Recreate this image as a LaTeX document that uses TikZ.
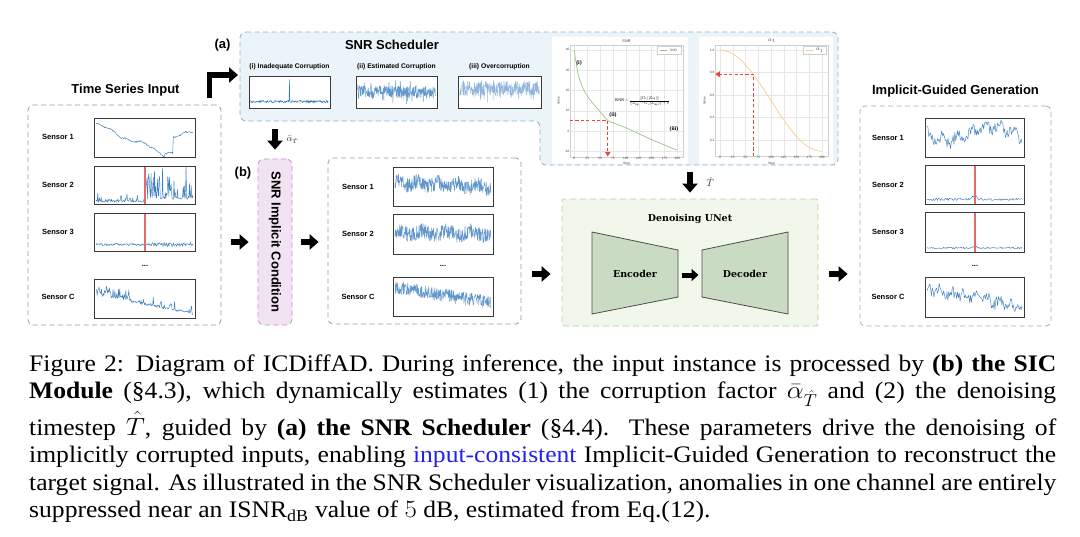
\documentclass[tikz,border=0pt]{standalone}
\usepackage{fontspec}
\setmainfont{Liberation Serif}
\newfontfamily\sansf{Liberation Sans}
\newfontfamily\slabf{DejaVu Serif}
\usepackage{graphicx}
\usetikzlibrary{arrows.meta}

\definecolor{sigblue}{HTML}{3B7DC0}
\definecolor{anomred}{HTML}{E36B6B}
\definecolor{schedfill}{HTML}{EAF4F9}
\definecolor{scheddraw}{HTML}{8DADCB}
\definecolor{panelc}{HTML}{9499B2}
\definecolor{sicfill}{HTML}{F1E3F2}
\definecolor{sicdraw}{HTML}{C48ED3}
\definecolor{unetfill}{HTML}{F1F7EB}
\definecolor{unetdraw}{HTML}{BDCFA2}
\definecolor{trapfill}{HTML}{C9DBC3}
\definecolor{trapdraw}{HTML}{4D4D4D}
\definecolor{gridc}{HTML}{E7E7E7}
\definecolor{axisc}{HTML}{CFCFCF}
\definecolor{snrgreen}{HTML}{96C985}
\definecolor{alphaorange}{HTML}{F6CF8C}
\definecolor{redd}{HTML}{E8453C}
\definecolor{boxc}{HTML}{3A3A3A}
\definecolor{capblue}{HTML}{2222EE}

\tikzset{
  panel/.style={draw=panelc, dash pattern=on 5pt off 3.5pt, line width=0.8pt, rounded corners=5pt, inner sep=0pt},
  plotbox/.style={draw=boxc, line width=0.9pt},
  sig/.style={draw=sigblue, line width=0.45pt, line join=round},
  signoise/.style={draw=sigblue, line width=0.45pt, line join=round, draw opacity=0.8},
  signoiselt/.style={draw=sigblue, line width=0.45pt, line join=round, draw opacity=0.55},
  anom/.style={draw=anomred, line width=1.3pt},
  fatarrow/.style={line width=6.5pt, -{Triangle[length=9pt,width=15pt]}, line join=miter},
  smallarrow/.style={line width=5pt, -{Triangle[length=7pt,width=12pt]}},
  senslab/.style={font=\sansf\bfseries\fontsize{7.5}{8}\selectfont, inner sep=0pt},
  ttl/.style={font=\sansf\bfseries\fontsize{13}{14}\selectfont, inner sep=0pt},
  sublab/.style={font=\sansf\bfseries\fontsize{6.7}{7}\selectfont, inner sep=0pt},
  ticklab/.style={font=\sansf\fontsize{3.2}{3.5}\selectfont, inner sep=0.4pt, text=black!75},
  reddash/.style={draw=redd, line width=1.1pt, dash pattern=on 3.2pt off 2.2pt, -{Triangle[length=4.5pt,width=5.5pt]}},
  annot/.style={font=\bfseries\fontsize{5.8}{6}\selectfont, inner sep=0pt},
  unettext/.style={font=\slabf\bfseries\fontsize{9.5}{10}\selectfont, inner sep=0pt},
}

\newcommand{\tsplot}[7][sig]{%
  \fill[white] (#2,#3) rectangle (#4,#5);
  \begin{scope}
    \clip (#2,#3) rectangle (#4,#5);
    \draw[#1] plot[domain=0.02:0.98, samples=#6] ({#2+(#4-#2)*\x},{#5-(#5-#3)*(#7)});
  \end{scope}
  \draw[plotbox] (#2,#3) rectangle (#4,#5);
}

\begin{document}
\begin{tikzpicture}[x=1pt,y=-1pt]
\useasboundingbox (0,0) rectangle (1080,536);
\fill[white] (0,0) rectangle (1080,536);
\pgfmathsetseed{2024}

% ---------- SNR scheduler panel ----------
\draw[draw=scheddraw, fill=schedfill, dash pattern=on 5pt off 3.5pt, line width=0.8pt, rounded corners=6pt]
  (240,32) -- (838,32) -- (838,165) -- (540,165) -- (540,121) -- (240,121) -- cycle;
\coordinate (schedA) at (275,121);
\coordinate (schedB) at (690,165);
\coordinate (schedL) at (238,75);
\node[ttl] (alab) at (222.5,45) {(a)};
\node[ttl] (schedT) at (392,45) {SNR Scheduler};
\node[sublab] (s1lab) at (289.5,66.5) {(i) Inadequate Corruption};
\node[sublab] (s2lab) at (396.5,66.5) {(ii) Estimated Corruption};
\node[sublab] (s3lab) at (499.5,66.5) {(iii) Overcorruption};
\tsplot{249}{76}{330}{108}{201}{0.2+0.04*rand+(abs(\x-0.5)<0.003)*0.72}
\tsplot[signoise]{356}{76}{437}{108}{320}{0.5+0.2*rand+0.25*pow(rnd,12)-0.25*pow(rnd,12)}
\tsplot[signoiselt]{458}{76}{541}{108}{300}{0.62+0.24*rand-0.3*pow(rnd,14)}

% chart 1 : SNR
\fill[white] (552,37) rectangle (688,164);
\node[ticklab, font=\sansf\fontsize{3.8}{4}\selectfont] (c1t) at (626.5,41) {SNR};
\node[ticklab, rotate=90] (c1v) at (558.5,101) {Value};
\node[ticklab] (c1s) at (626.5,163.3) {Step};
\begin{scope}[shift={(574.3,131)}, x=0.515pt, y=2.03pt]
  \draw[gridc, line width=0.35pt] foreach \s in {0,25,...,200} {(\s,-12.8) -- (\s,42.4)};
  \draw[gridc, line width=0.35pt] foreach \v in {-10,0,...,40} {(-8.3,\v) -- (211,\v)};
  \draw[axisc, line width=0.5pt] (-8.3,-12.8) rectangle (211,42.4);
  \draw[snrgreen, line width=0.7pt] plot[smooth, tension=0.5] coordinates {(0,40) (2,36) (4,33) (7,28.5) (11,25) (16,21.5) (22,18.5) (30,15.5) (40,12.5) (52,9) (65,5.2) (80,3.6) (100,1.6) (125,-1.3) (150,-4.2) (175,-6.9) (200,-9.5)};
  \draw[reddash] (-8.3,5) -- (65,5) -- (65,-12.5);
  \foreach \s in {0,25,...,200} \node[ticklab, anchor=north] at (\s,-12.8) {\s};
  \foreach \v in {-10,0,...,40} \node[ticklab, anchor=east] at (-8.3,\v) {\v};
\end{scope}
\draw[axisc, fill=white, line width=0.3pt] (657,46.5) rectangle (681,54);
\draw[snrgreen, line width=0.7pt] (659.5,50.2) -- (666.5,50.2);
\node[ticklab] (c1l) at (673.5,50.2) {SNR};
\node[annot] (ai) at (579,63) {(i)};
\node[annot] (aii) at (613,115) {(ii)};
\node[annot] (aiii) at (674,129) {(iii)};
\node[scale=0.42, inner sep=0pt] (isnr) at (642,101) {$\mathrm{ISNR}=\displaystyle\frac{\|G_v(Z_{\mathrm{inp}})\|}{\|Z_{\mathrm{inp}}-G_v(Z_{\mathrm{inp}})\|+\delta}$};

% chart 2 : alpha bar
\fill[white] (699,37) rectangle (833,164);
\node[ticklab, font=\fontsize{4}{4.2}\selectfont] (c2t) at (771.5,40.5) {$\bar{\alpha}_t$};
\node[ticklab, rotate=90] (c2v) at (704.5,101) {Value};
\node[ticklab] (c2s) at (771.5,163.3) {Step};
\begin{scope}[shift={(720,162.5)}, x=0.51pt, y=112.5pt]
  \draw[gridc, line width=0.35pt] foreach \s in {0,25,...,200} {(\s,0.058) -- (\s,1.044)};
  \draw[gridc, line width=0.35pt] foreach \v in {0.2,0.4,0.6,0.8,1.0} {(-9.8,\v) -- (211.8,\v)};
  \draw[axisc, line width=0.5pt] (-9.8,0.058) rectangle (211.8,1.044);
  \draw[alphaorange, line width=0.7pt] plot[domain=0:200, samples=60] (\x, {0.1+0.9*cos(0.45*\x)^2});
  \draw[reddash] (65,0.058) -- (65,0.785) -- (-9.3,0.785);
  \foreach \s in {0,25,...,200} \node[ticklab, anchor=north] at (\s,0.058) {\s};
  \foreach \v in {0.2,0.4,0.6,0.8,1.0} \node[ticklab, anchor=east] at (-9.8,\v) {\v};
\end{scope}
\draw[axisc, fill=white, line width=0.3pt] (803,46.5) rectangle (826,54);
\draw[alphaorange, line width=0.7pt] (805.5,50.2) -- (812.5,50.2);
\node[ticklab, font=\fontsize{3.2}{3.4}\selectfont] (c2l) at (819.5,50.2) {$\bar{\alpha}_t$};

% ---------- Time series input ----------
\node[panel, minimum width=193pt, minimum height=220pt] (inp) at (124.5,215) {};
\node[ttl] (inpT) at (125.5,90) {Time Series Input};
\node[senslab] (i1) at (58,137) {Sensor 1};
\node[senslab] (i2) at (58,185) {Sensor 2};
\node[senslab] (i3) at (58,232) {Sensor 3};
\node[senslab] (idots) at (145,266) {...};
\node[senslab] (iC) at (58,297) {Sensor C};
\tsplot{94}{118}{195}{157}{140}{(\x<0.7)*(0.85-1.1*\x+0.05*sin(\x*900))+(\x>0.7)*(\x<0.78)*0.09+(\x>0.78)*(0.5+1.0*(\x-0.78)-0.6*max(0,\x-0.9))+0.02*sin(\x*2500)+0.02*rand}
\tsplot{94}{166}{195}{204}{170}{0.07+0.025*rand+(\x<0.5)*0.25*pow(rnd,10)+(\x>0.5)*(0.08+0.85*pow(rnd,4))}
\draw[anom] (145,166.5) -- (145,203.5);
\tsplot{94}{213}{195}{251}{150}{0.17+0.03*rand+(\x>0.5)*0.04*rand}
\draw[anom] (145,213.5) -- (145,250.5);
\tsplot{94}{279}{195}{318}{160}{0.62-0.52*\x+0.03*rand+(\x<0.35)*0.28*pow(rnd,2)+(\x>0.35)*0.22*pow(rnd,8)}

% bent arrow to scheduler
\coordinate (bentS) at (209.5,98);
\draw[fatarrow, line width=5.5pt] (bentS) |- (schedL);

% ---------- SIC ----------
\node[panel, draw=sicdraw, fill=sicfill, rounded corners=6pt, minimum width=34pt, minimum height=166pt] (sic) at (275,242) {};
\node[font=\sansf\bfseries\fontsize{13}{14}\selectfont, rotate=-90, inner sep=0pt] (sicT) at (sic.center) {SNR Implicit Condition};
\node[ttl] (blab) at (243,173) {(b)};
\draw[fatarrow, shorten <=8pt, shorten >=9pt] (schedA) -- (sic.north);
\node[anchor=west, font=\fontsize{9}{10}\selectfont, text=black!80] (alphaT) at (283,140) {$\bar{\alpha}_{\hat{T}}$};
\draw[fatarrow, shorten <=10pt, shorten >=9pt] (inp.east |- sic.west) -- (sic.west);

% ---------- corrupted series ----------
\node[panel, minimum width=193pt, minimum height=166pt] (mid) at (424.5,241) {};
\draw[fatarrow, shorten <=9pt, shorten >=9pt] (sic.east) -- (mid.west |- sic.east);
\node[senslab] (m1) at (358,187) {Sensor 1};
\node[senslab] (m2) at (358,234) {Sensor 2};
\node[senslab] (mdots) at (443,266) {...};
\node[senslab] (mC) at (358,297) {Sensor C};
\tsplot[signoise]{393}{167}{493}{206}{320}{0.6-0.12*\x+0.19*rand+0.06*sin(\x*1800)}
\tsplot[signoise]{393}{214}{493}{254}{320}{0.52+0.19*rand+0.06*sin(\x*1500)}
\tsplot[signoise]{393}{277}{493}{316}{320}{0.75-0.42*\x+0.17*rand}

% ---------- Denoising UNet ----------
\node[panel, draw=unetdraw, fill=unetfill, rounded corners=2pt, dash pattern=on 6pt off 4pt, minimum width=256pt, minimum height=127pt] (unet) at (690,262.5) {};
\node[unettext] (unetT) at (690,219) {Denoising UNet};
\draw[fill=trapfill, draw=trapdraw, line width=0.8pt] (592,232) -- (678,250) -- (678,297) -- (592,314) -- cycle;
\draw[fill=trapfill, draw=trapdraw, line width=0.8pt] (702,250) -- (788,232) -- (788,314) -- (702,297) -- cycle;
\node[unettext] (enc) at (635,274) {Encoder};
\node[unettext] (dec) at (745,274) {Decoder};
\coordinate (encR) at (678,275);
\coordinate (decL) at (702,275);
\draw[smallarrow, shorten <=3.5pt, shorten >=3.5pt] (encR) -- (decL);
\draw[fatarrow, shorten <=7pt, shorten >=6pt] (schedB) -- (unet.north);
\node[anchor=west, font=\fontsize{10}{11}\selectfont, text=black!80] (That) at (703,182) {$\hat{T}$};
\draw[fatarrow, shorten <=11pt, shorten >=11pt] (mid.east |- enc) -- (unet.west |- enc);

% ---------- Implicit-Guided Generation ----------
\node[panel, draw=panelc!85, minimum width=191pt, minimum height=220pt] (out) at (955.5,216) {};
\node[ttl] (outT) at (955.5,91) {Implicit-Guided Generation};
\draw[fatarrow, shorten <=11pt, shorten >=12pt] (unet.east |- dec) -- (out.west |- dec);
\node[senslab] (o1) at (888,138) {Sensor 1};
\node[senslab] (o2) at (888,185) {Sensor 2};
\node[senslab] (o3) at (888,232) {Sensor 3};
\node[senslab] (odots) at (975,266) {...};
\node[senslab] (oC) at (888,297) {Sensor C};
\tsplot{925}{118}{1024}{157}{110}{0.6-0.17*sin(\x*400)+0.15*rand+0.1*sin(\x*2500)}
\tsplot{925}{165}{1024}{204}{120}{0.12+0.03*rand+0.12*max(0,1-abs(\x-0.5)/0.04)}
\draw[anom] (975,165.5) -- (975,203.5);
\tsplot{925}{212}{1024}{252}{120}{0.1+0.018*rand+0.05*max(0,1-abs(\x-0.5)/0.04)}
\draw[anom] (975,212.5) -- (975,251.5);
\tsplot{925}{277}{1024}{317}{110}{0.7-0.45*\x+0.15*rand+0.08*sin(\x*3000)}

% ---------- caption ----------
\node[anchor=north west, inner sep=0pt] (cap) at (29,354.5) {\scalebox{1.08}[1]{\parbox{951pt}{\fontsize{23.7}{27.5}\selectfont\lineskiplimit=2pt\lineskip=5pt
Figure 2: Diagram of ICDiffAD. During inference, the input instance is processed by \textbf{(b) the SIC}\linebreak
\textbf{Module} (\S4.3), which dynamically estimates (1) the corruption factor $\bar{\alpha}_{\hat{T}}$ and (2) the denoising\linebreak
timestep $\hat{T}$, guided by \textbf{(a) the SNR Scheduler} (\S4.4).\ \ These parameters drive the denoising of\linebreak
implicitly corrupted inputs, enabling \textcolor{capblue}{input-consistent} Implicit-Guided Generation to reconstruct the\linebreak
target signal. As illustrated in the SNR Scheduler visualization, anomalies in one channel are entirely\linebreak
suppressed near an ISNR\textsubscript{dB} value of $5$ dB, estimated from Eq.(12).}}};
\end{tikzpicture}
\end{document}
